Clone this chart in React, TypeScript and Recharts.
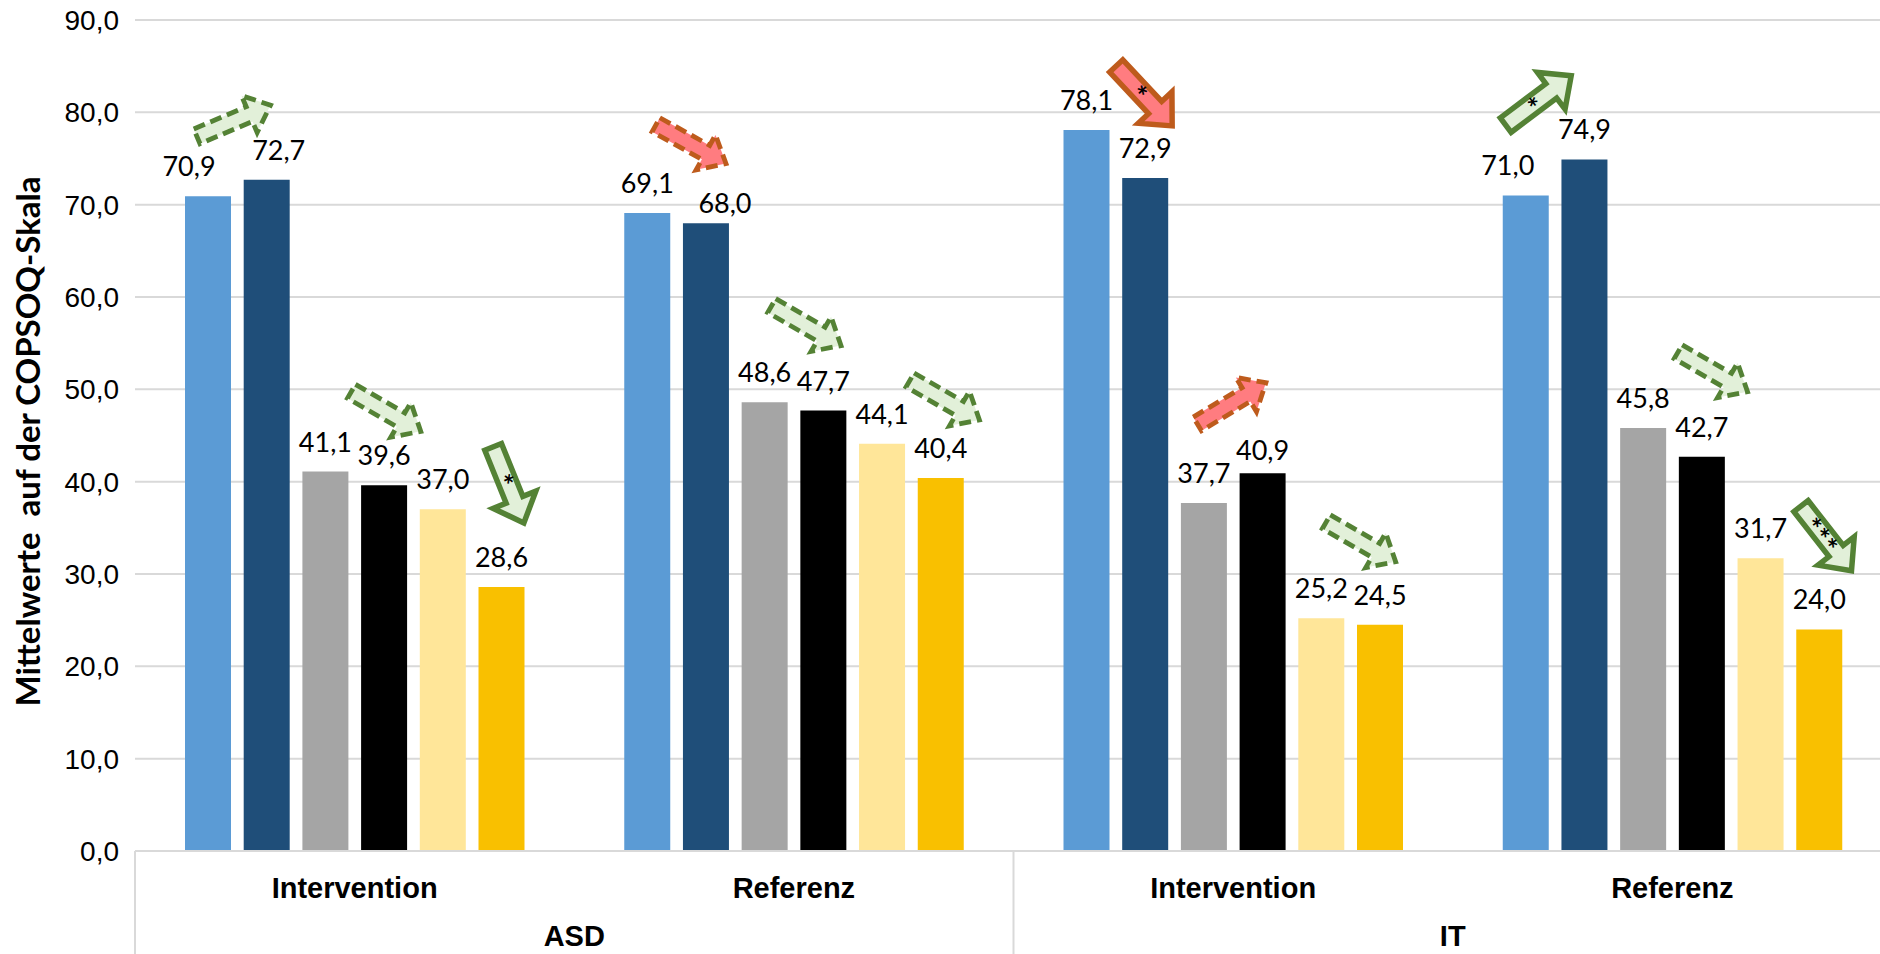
import React from 'react';
import { BarChart, Bar, XAxis, YAxis, CartesianGrid, LabelList } from 'recharts';

// ---------- data ----------
const CATEGORIES = ['Intervention', 'Referenz', 'Intervention', 'Referenz'];
const GROUPS = ['ASD', 'ASD', 'IT', 'IT'];
const SERIES_1 = [70.9, 69.1, 78.1, 71.0];
const SERIES_2 = [72.7, 68.0, 72.9, 74.9];
const SERIES_3 = [41.1, 48.6, 37.7, 45.8];
const SERIES_4 = [39.6, 47.7, 40.9, 42.7];
const SERIES_5 = [37.0, 44.1, 25.2, 31.7];
const SERIES_6 = [28.6, 40.4, 24.5, 24.0];
const Y_TICKS = [0, 10, 20, 30, 40, 50, 60, 70, 80, 90];
// significance stars per (category, pair) – index = category*3 + pair
const SIG_STARS = ['', '', '*', '', '', '', '*', '', '', '*', '', '***'];

// ---------- styling / layout (kept apart from the data) ----------
const SERIES_KEYS = ['s1', 's2', 's3', 's4', 's5', 's6'];
const SERIES_COLORS = ['#5B9BD5', '#1F4E79', '#A5A5A5', '#000000', '#FFE699', '#F9C000'];
// arrow placement relative to the second bar of each pair (angle magnitude in degrees)
const ARROW_LAYOUT = [
  { a: 23, dx: -33, dy: -59 },
  { a: 30, dx: 2, dy: -74 },
  { a: 68, dx: 7, dy: -102 },
  { a: 29, dx: -15, dy: -79 },
  { a: 30, dx: -17, dy: -85 },
  { a: 30, dx: 4, dy: -78 },
  { a: 47, dx: -1, dy: -82 },
  { a: 31, dx: -31, dy: -70 },
  { a: 30, dx: -19, dy: -83 },
  { a: 37, dx: -46, dy: -59 },
  { a: 30, dx: 11, dy: -85 },
  { a: 52, dx: 7, dy: -91 },
];
// manual label nudges, key = `${category}-${series}`
const LABEL_NUDGE: Record<string, [number, number]> = {
  '0-0': [-19, 0],
  '0-1': [12, 0],
  '1-1': [19, 10],
  '2-3': [0, 7],
  '3-0': [-18, 0],
};

const SERIES_VALUES = [SERIES_1, SERIES_2, SERIES_3, SERIES_4, SERIES_5, SERIES_6];
const data = CATEGORIES.map((c, i) => {
  const row: any = { cat: c, group: GROUPS[i] };
  SERIES_KEYS.forEach((k, s) => (row[k] = SERIES_VALUES[s][i]));
  return row;
});

const fmt = (v: number) => v.toFixed(1).replace('.', ',');
const GRID = '#D9D9D9';
const AXIS_FONT = '"Liberation Sans", Arial, sans-serif';
const LABEL_FONT = 'Lato, "Open Sans", sans-serif';

const getBox = (props: any) => {
  const vb = props.viewBox && props.viewBox.width !== undefined ? props.viewBox : props;
  return { x: Number(vb.x), y: Number(vb.y), width: Number(vb.width), height: Number(vb.height) };
};

const makeValueLabel = (s: number) => (props: any) => {
  const { x, y, width } = getBox(props);
  const idx = props.index;
  const value = SERIES_VALUES[s][idx];
  if (value === undefined || isNaN(x)) return null;
  const nudge = LABEL_NUDGE[`${idx}-${s}`] || [0, 0];
  return (
    <text
      x={x + width / 2 + nudge[0]}
      y={y - 20 + nudge[1]}
      textAnchor="middle"
      fontFamily={LABEL_FONT}
      fontSize={27}
      fill="#000"
    >
      {fmt(value)}
    </text>
  );
};

const BlockArrow = ({ cx, cy, angle, solid, good, stars }: any) => {
  const L = solid ? 82 : 80;
  const sw = solid ? 18 : 16;
  const hw = solid ? 46 : 40;
  const hl = solid ? 25 : 23;
  const pts = [
    [-L / 2, -sw / 2],
    [L / 2 - hl, -sw / 2],
    [L / 2 - hl, -hw / 2],
    [L / 2, 0],
    [L / 2 - hl, hw / 2],
    [L / 2 - hl, sw / 2],
    [-L / 2, sw / 2],
  ]
    .map((p) => p.join(','))
    .join(' ');
  const fill = good ? '#E2F0D9' : '#FF7C80';
  const stroke = good ? '#548235' : '#BE5B1C';
  const fs = 28;
  return (
    <g transform={`translate(${cx},${cy}) rotate(${angle})`}>
      <polygon
        points={pts}
        fill={fill}
        stroke={stroke}
        strokeWidth={solid ? 5.5 : 4.8}
        strokeDasharray={solid ? undefined : '12 6'}
        strokeLinejoin="miter"
      />
      {stars && (
        <text
          x={-5}
          y={0.5 * fs}
          textAnchor="middle"
          fontFamily={LABEL_FONT}
          fontWeight={700}
          fontSize={fs}
          letterSpacing={1}
          fill="#000"
        >
          {stars}
        </text>
      )}
    </g>
  );
};

const makeArrowLabel = (pair: number) => (props: any) => {
  const { x, y, width } = getBox(props);
  const idx = props.index;
  if (idx === undefined || isNaN(x)) return null;
  const k = idx * 3 + pair;
  const layout = ARROW_LAYOUT[k];
  if (!layout) return null;
  const before = SERIES_VALUES[pair * 2][idx];
  const after = SERIES_VALUES[pair * 2 + 1][idx];
  const up = after > before;
  const good = pair === 0 ? up : !up;
  const stars = SIG_STARS[k];
  return (
    <BlockArrow
      cx={x + width / 2 + layout.dx}
      cy={y + layout.dy}
      angle={up ? -layout.a : layout.a}
      solid={stars.length > 0}
      good={good}
      stars={stars}
    />
  );
};

const CategoryTick = (props: any) => {
  const { x, y, payload, index } = props;
  const count = props.visibleTicksCount || CATEGORIES.length;
  const axisW = Number(props.width) || 1757;
  const band = axisW / count;
  const isStart = index === 0 || GROUPS[index] !== GROUPS[index - 1];
  let span = 0;
  if (isStart) {
    while (index + span < GROUPS.length && GROUPS[index + span] === GROUPS[index]) span++;
  }
  return (
    <g>
      <text
        x={x}
        y={y + 37}
        textAnchor="middle"
        dominantBaseline="central"
        fontFamily={AXIS_FONT}
        fontWeight={700}
        fontSize={29}
        fill="#000"
      >
        {payload.value}
      </text>
      {isStart && (
        <>
          <line x1={x - band / 2} x2={x - band / 2} y1={y} y2={y + 110} stroke={GRID} strokeWidth={2} />
          <text
            x={x - band / 2 + (span * band) / 2}
            y={y + 85}
            textAnchor="middle"
            dominantBaseline="central"
            fontFamily={AXIS_FONT}
            fontWeight={700}
            fontSize={29}
            fill="#000"
          >
            {GROUPS[index]}
          </text>
        </>
      )}
    </g>
  );
};

const YTitle = (props: any) => {
  const vb = props.viewBox || { x: 0, y: 20, width: 135, height: 831 };
  const cx = vb.x + 27;
  const cy = vb.y + vb.height / 2 + 6;
  return (
    <text
      x={cx}
      y={cy}
      transform={`rotate(-90, ${cx}, ${cy})`}
      textAnchor="middle"
      dominantBaseline="central"
      fontFamily={LABEL_FONT}
      fontWeight={700}
      fontSize={33}
      fill="#000"
    >
      {'Mittelwerte\u00A0 auf der COPSOQ-Skala'}
    </text>
  );
};

export default function App() {
  return (
    <div
      style={{
        position: 'absolute',
        left: 0,
        top: 0,
        width: 1880,
        height: 954,
        overflow: 'hidden',
        background: '#fff',
      }}
    >
      <BarChart
        width={1892}
        height={954}
        data={data}
        margin={{ top: 20, right: 0, left: 0, bottom: 0 }}
        barCategoryGap={50}
        barGap={12.7}
      >
        <CartesianGrid vertical={false} stroke={GRID} strokeWidth={2} />
        <XAxis
          dataKey="cat"
          height={103}
          interval={0}
          tickLine={false}
          tickSize={0}
          tickMargin={0}
          axisLine={{ stroke: GRID, strokeWidth: 2 }}
          tick={<CategoryTick />}
        />
        <YAxis
          width={135}
          domain={[0, 90]}
          ticks={Y_TICKS}
          interval={0}
          axisLine={false}
          tickLine={false}
          tickSize={0}
          tickMargin={16}
          tickFormatter={(v: number) => fmt(v)}
          tick={{ fontFamily: AXIS_FONT, fontSize: 28, fill: '#000' }}
          label={{ content: <YTitle /> }}
        />
        {SERIES_KEYS.map((k, s) => (
          <Bar key={k} dataKey={k} fill={SERIES_COLORS[s]} isAnimationActive={false}>
            <LabelList dataKey={k} content={makeValueLabel(s)} />
            {s % 2 === 1 && <LabelList dataKey={k} content={makeArrowLabel((s - 1) / 2)} />}
          </Bar>
        ))}
      </BarChart>
    </div>
  );
}
